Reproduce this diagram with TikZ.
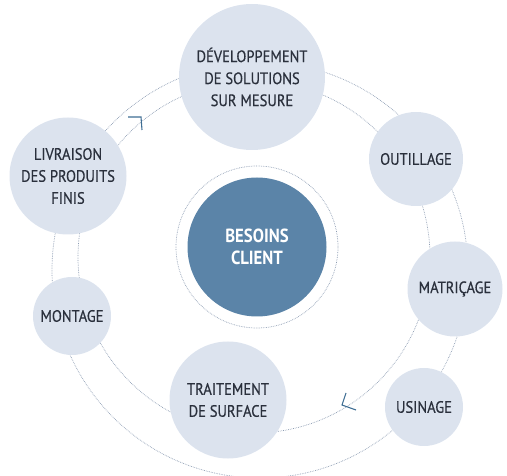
\documentclass[tikz,border=0pt]{standalone}
\usepackage{fontspec}
\setmainfont[FakeStretch=0.9]{PT Sans}
\newfontfamily\phasefont[FakeStretch=0.88,FakeBold=0.5]{PT Sans}
\newfontfamily\corefont[FakeStretch=0.88]{PT Sans}
\definecolor{lightc}{HTML}{DCE3EE}
\definecolor{darkc}{HTML}{5B84A8}
\definecolor{ringc}{HTML}{8D9DB3}
\definecolor{txtc}{HTML}{2A303C}
\definecolor{arrc}{HTML}{3E6D93}
\tikzset{
  x=1pt,y=-1pt,
  phase/.style={circle,fill=lightc,draw=none,align=center,text=txtc,inner sep=0pt,
    font=\phasefont\fontsize{16.5}{22}\selectfont},
  core/.style={circle,fill=darkc,draw=none,align=center,text=white,inner sep=0pt,
    font=\corefont\fontsize{19}{22}\selectfont\bfseries},
  ring/.style={ringc,line width=0.7pt,densely dotted},
  chev/.style={arrc,line width=1.1pt}
}
\begin{document}
\begin{tikzpicture}
\useasboundingbox (0,0) rectangle (507,476);
\begin{scope}
\clip (0,0) rectangle (507,476);
\coordinate (oc) at (260,270);
\coordinate (ic) at (254,257);
\draw[ring] (oc) circle[radius=208];
\draw[ring] (ic) circle[radius=176];
\end{scope}
\coordinate (cc) at (257,247);
\draw[ring] (cc) circle[radius=81];
\node[core,minimum size=139pt] (core) at (cc) {BESOINS\\CLIENT};
\node[phase,minimum size=146pt] (dev) at (252,77) {DÉVELOPPEMENT\\DE SOLUTIONS\\SUR MESURE};
\node[phase,minimum size=94pt] (out) at (416,159) {OUTILLAGE};
\node[phase,minimum size=95pt] (mat) at (455,289) {MATRIÇAGE};
\node[phase,minimum size=78pt] (usi) at (424,407) {USINAGE};
\node[phase,minimum size=117pt] (tra) at (228,400) {TRAITEMENT\\DE SURFACE};
\node[phase,minimum size=78pt] (mon) at (72,316) {MONTAGE};
\node[phase,minimum size=117pt] (liv) at (68,176) {LIVRAISON\\DES PRODUITS\\FINIS};
% chevrons on the inner ring
\coordinate (t1) at (141,117);
\draw[chev] (128,117) -- (t1) -- (142,130);
\coordinate (t2) at (342,405);
\draw[chev] (346,393) -- (t2) -- (356,410);
\end{tikzpicture}
\end{document}
